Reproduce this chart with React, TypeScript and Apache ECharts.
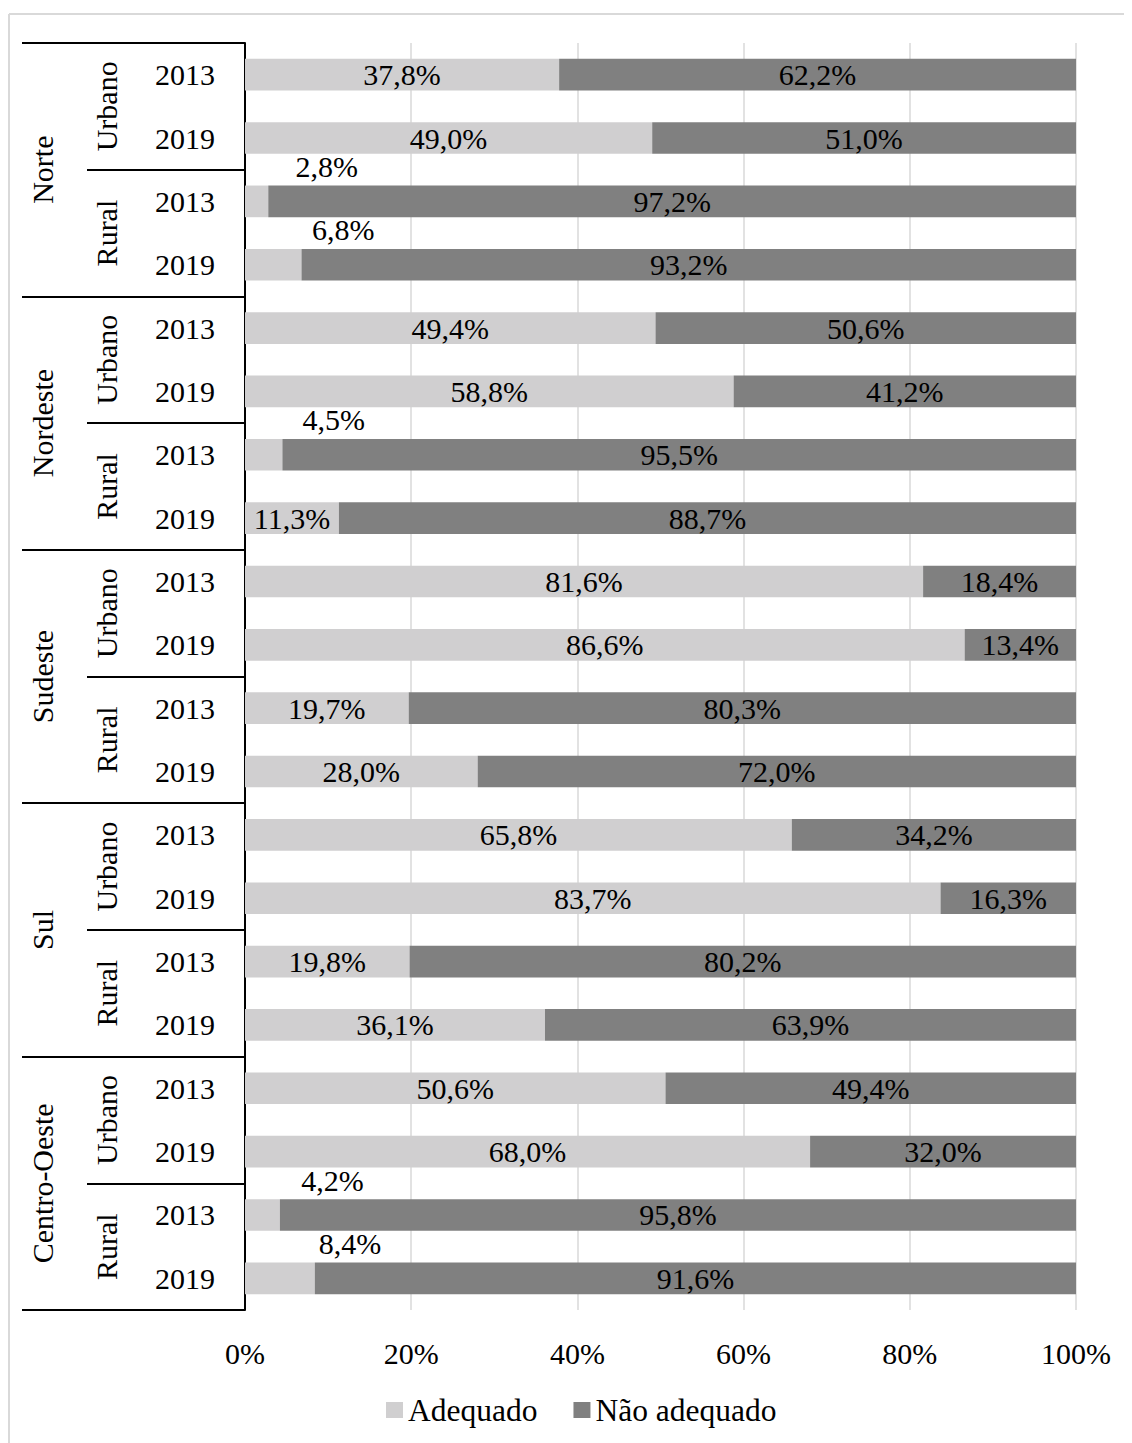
import React, { useEffect, useRef } from "react";
import * as echarts from "echarts";

const years = ["2013", "2019", "2013", "2019", "2013", "2019", "2013", "2019", "2013", "2019", "2013", "2019", "2013", "2019", "2013", "2019", "2013", "2019", "2013", "2019"];
const zones = ["Urbano", "Rural", "Urbano", "Rural", "Urbano", "Rural", "Urbano", "Rural", "Urbano", "Rural"];
const regions = ["Norte", "Nordeste", "Sudeste", "Sul", "Centro-Oeste"];
const adequado = [37.8, 49.0, 2.8, 6.8, 49.4, 58.8, 4.5, 11.3, 81.6, 86.6, 19.7, 28.0, 65.8, 83.7, 19.8, 36.1, 50.6, 68.0, 4.2, 8.4];
const naoAdequado = [62.2, 51.0, 97.2, 93.2, 50.6, 41.2, 95.5, 88.7, 18.4, 13.4, 80.3, 72.0, 34.2, 16.3, 80.2, 63.9, 49.4, 32.0, 95.8, 91.6];
const xTicks = [0, 20, 40, 60, 80, 100];
const seriesNames = ["Adequado", "Não adequado"];

const FONT = '"Times New Roman", "Liberation Serif", serif';
const FS = 30;
const fmt = (v: number) => v.toFixed(1).replace(".", ",") + "%";

export default function App() {
  const ref = useRef<HTMLDivElement>(null);
  useEffect(() => {
    if (!ref.current) return;
    const chart = echarts.init(ref.current, undefined, { renderer: "svg" });
    const hidden = { show: false };
    const adequadoData = adequado.map((v) =>
      v < 10
        ? {
            value: v,
            label: {
              position: "top" as const,
              distance: 2,
              offset: [70, -2],
            },
          }
        : { value: v }
    );
    const option: any = {
      animation: false,
      backgroundColor: "#ffffff",
      textStyle: { fontFamily: FONT },
      graphic: [
        { type: "line", shape: { x1: 1, y1: 6, x2: 1124, y2: 6 }, style: { stroke: "#d9d9d9", lineWidth: 2 } },
        { type: "line", shape: { x1: 1, y1: 6, x2: 1, y2: 1435 }, style: { stroke: "#d9d9d9", lineWidth: 2 } },
      ],
      legend: {
        data: seriesNames,
        left: 373,
        top: 1381,
        itemWidth: 17,
        itemHeight: 16,
        itemGap: 36,
        icon: "rect",
        textStyle: { fontFamily: FONT, fontSize: 31.5, color: "#000", padding: [0, 0, 0, 0] },
      },
      grid: { left: 237, right: 56, top: 35, bottom: 133, containLabel: false },
      xAxis: {
        type: "value",
        min: 0,
        max: 100,
        interval: 20,
        axisLine: hidden,
        axisTick: hidden,
        axisLabel: {
          formatter: (v: number) => (xTicks.includes(v) ? v + "%" : ""),
          fontFamily: FONT,
          fontSize: FS,
          color: "#000",
          margin: 28,
        },
        splitLine: { show: true, lineStyle: { color: "#d9d9d9", width: 1.5 } },
      },
      yAxis: [
        {
          type: "category",
          data: years,
          inverse: true,
          position: "left",
          axisLine: { show: true, lineStyle: { color: "#000", width: 2 } },
          axisTick: hidden,
          axisLabel: { interval: 0, fontFamily: FONT, fontSize: FS, color: "#000", margin: 30 },
          splitLine: hidden,
        },
        {
          type: "category",
          data: zones,
          inverse: true,
          position: "left",
          axisLine: hidden,
          axisTick: { show: true, length: 158, interval: 0, lineStyle: { color: "#000", width: 2 } },
          axisLabel: { interval: 0, rotate: 90, fontFamily: FONT, fontSize: FS, color: "#000", margin: 124 },
          splitLine: hidden,
        },
        {
          type: "category",
          data: regions,
          inverse: true,
          position: "left",
          axisLine: hidden,
          axisTick: { show: true, length: 223, interval: 0, lineStyle: { color: "#000", width: 2 } },
          axisLabel: { interval: 0, rotate: 90, fontFamily: FONT, fontSize: FS, color: "#000", margin: 188 },
          splitLine: hidden,
        },
      ],
      series: [
        {
          name: seriesNames[0],
          type: "bar",
          stack: "total",
          yAxisIndex: 0,
          barWidth: "50%",
          itemStyle: { color: "#d0cfd0" },
          label: {
            show: true,
            position: "inside",
            formatter: (p: any) => fmt(p.value),
            fontFamily: FONT,
            fontSize: FS,
            color: "#000",
          },
          data: adequadoData,
        },
        {
          name: seriesNames[1],
          type: "bar",
          stack: "total",
          yAxisIndex: 0,
          barWidth: "50%",
          itemStyle: { color: "#808080" },
          label: {
            show: true,
            position: "inside",
            formatter: (p: any) => fmt(p.value),
            fontFamily: FONT,
            fontSize: FS,
            color: "#000",
          },
          data: naoAdequado,
        },
      ],
    };
    chart.setOption(option);
    return () => chart.dispose();
  }, []);
  return <div ref={ref} style={{ width: 1124, height: 1435 }} />;
}
